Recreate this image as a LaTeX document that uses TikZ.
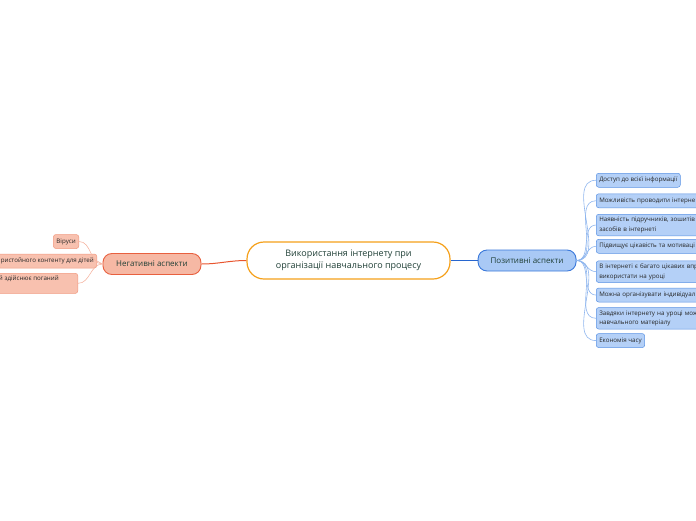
\documentclass[tikz,border=0pt]{standalone}
\usepackage{fontspec}
\setmainfont{Open Sans}
\usetikzlibrary{positioning}

\definecolor{txtdark}{HTML}{1F3F36}
\definecolor{rootline}{HTML}{F5A01A}
\definecolor{posfill}{HTML}{A9C9F5}
\definecolor{posdraw}{HTML}{3A78DA}
\definecolor{posline}{HTML}{2766CF}
\definecolor{posleaffill}{HTML}{B4D0F7}
\definecolor{posleafdraw}{HTML}{5A92E3}
\definecolor{posleafline}{HTML}{8FB6EE}
\definecolor{negfill}{HTML}{F6B8A4}
\definecolor{negdraw}{HTML}{E8603F}
\definecolor{negline}{HTML}{E8552E}
\definecolor{negleaffill}{HTML}{F8C1AF}
\definecolor{negleafdraw}{HTML}{F0997F}
\definecolor{negleafline}{HTML}{F5B5A2}

\tikzset{
  root/.style={draw=rootline, line width=1.2pt, fill=white, rounded corners=17pt,
    minimum width=203pt, minimum height=37pt, align=center, text=txtdark,
    font=\fontsize{9}{12.5}\selectfont},
  branch/.style={line width=0.9pt, rounded corners=9pt, minimum width=98pt,
    minimum height=21pt, text=txtdark, font=\fontsize{8}{10}\selectfont},
  leaf/.style={line width=0.5pt, rounded corners=2.5pt, inner xsep=3pt, inner ysep=3pt,
    minimum height=14pt, text=black!85, font=\fontsize{6.2}{9.5}\selectfont},
  posleaf/.style={leaf, draw=posleafdraw, fill=posleaffill},
  wideleaf/.style={posleaf, text width=110pt, align=left},
  negleaf/.style={leaf, draw=negleafdraw, fill=negleaffill},
  posedge/.style={draw=posleafline, line width=0.6pt},
  negedge/.style={draw=negleafline, line width=0.6pt}
}

\begin{document}
\begin{tikzpicture}[x=1pt,y=-1pt]
  \useasboundingbox (0,0) rectangle (696,520);
  \clip (0,0) rectangle (696,520);

  \node[root] (use) at (348.5,260.5) {Використання інтернету при\\організації навчального процесу};
  \node[branch, draw=posdraw, fill=posfill, right=27pt of use] (pos) {Позитивні аспекти};
  \node[branch, draw=negdraw, fill=negfill, left=45pt of use, yshift=-3.5pt] (neg) {Негативні аспекти};

  \draw[posline, line width=1pt] (use) -- (pos);
  \draw[negline, line width=1pt] (use.west) to[out=180,in=0] (neg.east);

  % positive side
  \node[posleaf, anchor=north west] (p1) at (596,173) {Доступ до всієї інформації};
  \node[wideleaf, below=6pt of p1.south west, anchor=north west] (p2) {Можливість проводити інтерне};
  \node[wideleaf, below=6pt of p2.south west, anchor=north west] (p3) {Наявність підручників, зошитів\\засобів в інтернеті};
  \node[wideleaf, below=3pt of p3.south west, anchor=north west] (p4) {Підвищує цікавість та мотиваці};
  \node[wideleaf, below=7pt of p4.south west, anchor=north west] (p5) {В інтернеті є багато цікавих впр\\використати на уроці};
  \node[wideleaf, below=5pt of p5.south west, anchor=north west] (p6) {Можна організувати індивідуал};
  \node[wideleaf, below=5pt of p6.south west, anchor=north west] (p7) {Завдяки інтернету на уроці мож\\навчального матеріалу};
  \node[posleaf, below=4pt of p7.south west, anchor=north west] (p8) {Економія часу};

  \foreach \k in {1,...,8}
    \draw[posedge] (pos.east) to[out=0,in=180] (p\k.west);

  % negative side
  \node[negleaf, anchor=east] (n1) at (79,241.5) {Віруси};
  \node[negleaf, anchor=east] (n2) at (97,261) {ристойного контенту для дітей};
  \node[negleaf, anchor=north east, align=right] (n3) at (78,273) {й здійснює поганий\hspace*{16pt}\\\mbox{}};

  \foreach \k in {1,2,3}
    \draw[negedge] (neg.west) to[out=180,in=0] (n\k.east);
\end{tikzpicture}
\end{document}
